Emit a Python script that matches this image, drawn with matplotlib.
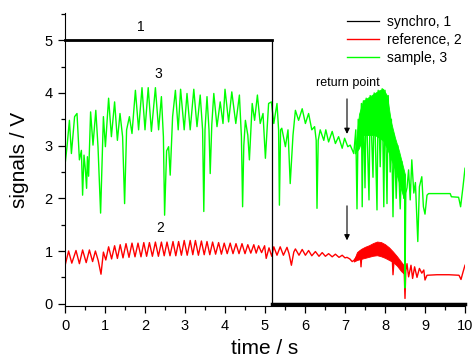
import matplotlib
matplotlib.use('Agg')
import matplotlib.pyplot as plt
from matplotlib.ticker import MultipleLocator

plt.rcParams['font.family'] = ['Liberation Sans', 'DejaVu Sans']

# synchro signal (curve 1)
t_sync = [0.0, 5.17, 5.17, 10.0]
v_sync = [5.0, 5.0, 0.0, 0.0]

# reference signal (curve 2)
t_ref = [0.0, 0.09, 0.17, 0.275, 0.36, 0.44, 0.53, 0.61, 0.69, 0.76, 0.83, 0.9, 0.96, 1.02,
         1.09, 1.165, 1.24, 1.31, 1.38, 1.45, 1.525, 1.6, 1.675, 1.75, 1.825, 1.9, 1.97, 2.04,
         2.11, 2.185, 2.26, 2.335, 2.41, 2.48, 2.55, 2.625, 2.7, 2.77, 2.84, 2.91, 2.98, 3.055,
         3.13, 3.195, 3.26, 3.335, 3.41, 3.48, 3.55, 3.62, 3.69, 3.765, 3.84, 3.91, 3.98, 4.055,
         4.13, 4.2, 4.275, 4.35, 4.425, 4.5, 4.57, 4.645, 4.72, 4.78, 4.84, 4.915, 4.99, 5.03,
         5.1, 5.17, 5.22, 5.3, 5.38, 5.46, 5.55, 5.6, 5.66, 5.72, 5.76, 5.85, 5.93, 6.01, 6.09,
         6.17, 6.26, 6.35, 6.43, 6.51, 6.59, 6.68, 6.76, 6.85, 6.93, 7.0, 7.05, 7.12, 7.18, 7.22,
         7.3, 7.38, 7.4, 7.43, 7.6, 7.8, 8.0, 8.18, 8.2, 8.23, 8.4, 8.48, 8.5, 8.52, 8.55, 8.59,
         8.65, 8.69, 8.74, 8.8, 8.86, 8.92, 8.97, 9.0, 9.05, 9.3, 9.6, 9.85, 9.9, 9.95, 10.0]
v_ref = [0.72, 1.0, 0.77, 1.01, 0.76, 1.02, 0.78, 1.02, 0.8, 1.0, 0.82, 0.56, 0.98, 0.83,
         1.08, 0.85, 1.1, 0.86, 1.12, 0.87, 1.14, 0.88, 1.15, 0.89, 1.15, 0.89, 1.16, 0.9,
         1.16, 0.9, 1.17, 0.9, 1.17, 0.91, 1.17, 0.91, 1.18, 0.91, 1.18, 0.92, 1.2, 0.92,
         1.2, 0.93, 1.2, 0.92, 1.19, 0.93, 1.18, 0.93, 1.17, 0.94, 1.16, 0.94, 1.15, 0.95,
         1.15, 0.95, 1.14, 0.95, 1.14, 0.95, 1.12, 0.96, 1.12, 0.96, 1.1, 0.97, 1.1, 0.86,
         1.06, 0.9, 1.08, 0.92, 1.08, 0.92, 1.07, 0.95, 0.73, 0.98, 1.04, 0.92, 1.03, 0.92, 1.01,
         0.91, 0.99, 0.9, 0.97, 0.9, 0.95, 0.89, 0.94, 0.88, 0.92, 0.87, 0.88, 0.85, 0.8, 0.82,
         0.9, 1.0, 0.7, 1.02, 1.05, 1.08, 1.0, 0.9, 0.55, 0.88, 0.72, 0.62, 0.1, 0.62, 0.76, 0.51,
         0.73, 0.48, 0.7, 0.5, 0.67, 0.58, 0.64, 0.45, 0.54, 0.55, 0.55, 0.54, 0.46, 0.6, 0.73]

# envelope of the fast oscillation of curve 2 after the return point
t_ref_band = [7.22, 7.3, 7.4, 7.5, 7.6, 7.7, 7.8, 7.9, 8.0, 8.1, 8.2, 8.3, 8.4, 8.5]
ref_hi = [0.82, 0.98, 1.04, 1.08, 1.11, 1.15, 1.18, 1.17, 1.13, 1.07, 0.99, 0.9, 0.8, 0.7]
ref_lo = [0.80, 0.83, 0.85, 0.87, 0.89, 0.91, 0.92, 0.9, 0.87, 0.83, 0.79, 0.72, 0.62, 0.55]

# sample signal (curve 3)
t_smp = [0.0, 0.05, 0.11, 0.16, 0.24, 0.3, 0.36, 0.41, 0.44, 0.475, 0.51, 0.54, 0.56, 0.59,
         0.64, 0.7, 0.77, 0.825, 0.89, 0.96, 1.01, 1.09, 1.16, 1.24, 1.31, 1.375, 1.44, 1.49,
         1.54, 1.61, 1.675, 1.76, 1.84, 1.925, 2.0, 2.08, 2.16, 2.26, 2.34, 2.41, 2.46, 2.49,
         2.54, 2.59, 2.63, 2.69, 2.76, 2.83, 2.89, 2.98, 3.05, 3.13, 3.22, 3.3, 3.38, 3.44,
         3.47, 3.5, 3.55, 3.6, 3.63, 3.67, 3.72, 3.8, 3.88, 3.95, 4.0, 4.09, 4.17, 4.27, 4.36,
         4.41, 4.44, 4.47, 4.51, 4.57, 4.61, 4.68, 4.74, 4.81, 4.88, 4.95, 5.01, 5.09, 5.16,
         5.22, 5.3, 5.34, 5.36, 5.39, 5.42, 5.51, 5.575, 5.63, 5.7, 5.76, 5.84, 5.93, 6.01,
         6.09, 6.17, 6.24, 6.28, 6.3, 6.33, 6.38, 6.47, 6.52, 6.59, 6.68, 6.76, 6.84, 6.93,
         6.99, 7.07, 7.13, 7.22, 7.27, 7.3, 7.33, 7.38, 7.41, 7.43, 7.46, 7.5, 7.53, 7.6, 7.63,
         7.7, 7.73, 7.8, 7.83, 7.88, 7.93, 7.97, 8.0, 8.05, 8.08, 8.13, 8.16, 8.2, 8.23, 8.28,
         8.32, 8.38, 8.42, 8.47, 8.49, 8.5, 8.52, 8.55, 8.59, 8.63, 8.67, 8.72, 8.76, 8.82,
         8.86, 8.92, 8.96, 9.0, 9.05, 9.09, 9.63, 9.66, 9.84, 9.89, 9.95, 10.0]
v_smp = [2.63, 2.98, 3.48, 2.85, 3.55, 3.61, 2.73, 2.91, 2.06, 2.82, 2.54, 2.19, 2.79, 2.42,
         3.64, 3.01, 3.67, 2.98, 1.72, 3.55, 2.98, 3.9, 3.17, 3.83, 3.1, 3.61, 3.17, 1.9,
         3.3, 3.55, 3.23, 4.05, 3.3, 4.1, 3.3, 4.1, 3.27, 4.1, 3.3, 3.93, 3.17, 1.68,
         2.9, 2.98, 2.44, 3.55, 4.05, 3.3, 4.07, 3.3, 3.99, 3.3, 4.07, 3.36, 3.96, 3.3,
         1.75, 3.3, 3.93, 3.3, 2.47, 3.4, 3.99, 3.36, 3.83, 3.42, 4.07, 3.45, 4.02, 3.42, 3.96,
         3.17, 1.84, 3.0, 3.48, 3.2, 2.73, 3.8, 3.48, 3.96, 3.42, 3.61, 2.76, 3.8, 3.83,
         3.42, 3.8, 3.3, 1.87, 3.3, 3.33, 2.98, 3.3, 2.28, 3.2, 3.67, 3.48, 3.7, 3.42,
         3.61, 3.3, 3.36, 3.1, 1.81, 3.1, 3.3, 3.1, 3.3, 3.07, 3.27, 3.04, 3.17, 2.95,
         3.14, 2.98, 3.01, 2.85, 3.3, 1.8, 3.5, 3.0, 3.8, 1.84, 3.85, 2.2, 3.9, 1.97, 3.95,
         2.4, 4.0, 1.78, 4.05, 2.6, 4.08, 1.84, 4.05, 1.9, 3.95, 2.5, 3.5, 1.65, 3.2, 2.0,
         3.0, 1.8, 2.7, 2.0, 2.45, 0.3, 2.1, 2.2, 2.54, 1.97, 2.73, 2.1, 2.3, 1.18,
         2.22, 2.41, 1.84, 1.7, 2.06, 2.09, 2.09, 2.03, 2.02, 1.84, 2.22, 2.57]

# envelope of the dense part of curve 3
t_smp_band = [7.25, 7.35, 7.45, 7.55, 7.65, 7.75, 7.85, 7.95, 8.05, 8.15, 8.25, 8.35, 8.45, 8.5]
smp_hi = [2.9, 3.6, 3.85, 3.9, 3.95, 4.0, 4.05, 4.08, 3.95, 3.45, 3.15, 2.9, 2.6, 2.45]
smp_lo = [2.85, 2.95, 3.2, 3.2, 3.2, 3.2, 3.15, 3.1, 2.95, 2.75, 2.55, 2.3, 2.05, 1.95]

green = '#00ff00'
red = '#ff0000'

fig = plt.figure(figsize=(4.74, 3.57), dpi=100)
ax = fig.add_axes([65 / 474, 1 - 306.3 / 357, 400 / 474, 293.3 / 357])

ax.plot(t_sync, v_sync, color='black', lw=0.9, label='synchro, 1', clip_on=False, zorder=4)
ax.plot(t_sync[:2], v_sync[:2], color='black', lw=2.0, clip_on=False, zorder=4)
ax.plot(t_sync[2:], v_sync[2:], color='black', lw=2.5, clip_on=False, zorder=4)

ax.plot(t_ref, v_ref, color=red, lw=1.0, label='reference, 2')
ax.fill_between(t_ref_band, ref_lo, ref_hi, color=red, lw=0.6)

ax.plot(t_smp, v_smp, color=green, lw=1.0, label='sample, 3')
ax.fill_between(t_smp_band, smp_lo, smp_hi, color=green, lw=0.6)

ax.text(1.9, 5.25, '1', fontsize=10, ha='center', va='center')
ax.text(2.33, 4.36, '3', fontsize=10, ha='center', va='center')
ax.text(2.37, 1.44, '2', fontsize=10, ha='center', va='center')

ax.text(7.08, 4.19, 'return point', fontsize=9, ha='center', va='center')
arrow = dict(arrowstyle='-|>', color='black', lw=0.8, mutation_scale=8)
ax.annotate('', xy=(7.05, 3.17), xytext=(7.05, 3.94), arrowprops=arrow)
ax.annotate('', xy=(7.05, 1.15), xytext=(7.05, 1.91), arrowprops=arrow)

ax.set_xlim(0, 10)
ax.set_ylim(-0.049, 5.517)
ax.spines['top'].set_visible(False)
ax.spines['right'].set_visible(False)
ax.xaxis.set_major_locator(MultipleLocator(1))
ax.xaxis.set_minor_locator(MultipleLocator(0.5))
ax.yaxis.set_major_locator(MultipleLocator(1))
ax.yaxis.set_minor_locator(MultipleLocator(0.5))
ax.tick_params(which='major', direction='out', length=5, width=0.9, labelsize=10.5, pad=4)
ax.tick_params(which='minor', direction='out', length=3, width=0.9)

ax.set_xlabel('time / s', fontsize=15)
ax.set_ylabel('signals / V', fontsize=15)
ax.xaxis.set_label_coords(0.5, -0.113)
ax.yaxis.set_label_coords(-0.09, 0.5)

ax.legend(loc='upper left', bbox_to_anchor=(347 / 474, 1 - 15 / 357),
          bbox_transform=fig.transFigure, frameon=False, fontsize=10,
          handlelength=2.3, handletextpad=0.55, labelspacing=0.3,
          borderpad=0, borderaxespad=0)

fig.savefig('out.png', dpi=100)
